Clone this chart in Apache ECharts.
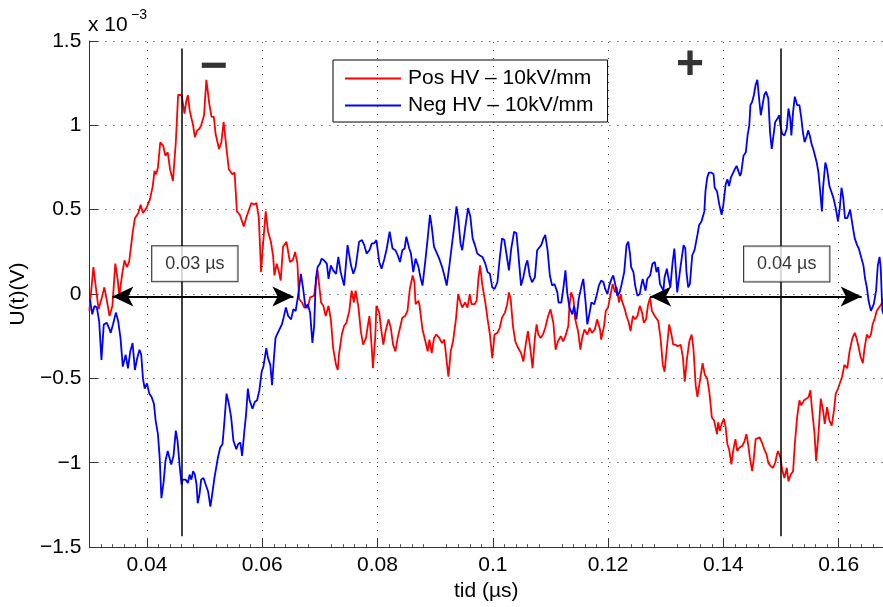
<!DOCTYPE html>
<html><head><meta charset="utf-8">
<script src="https://cdn.jsdelivr.net/npm/echarts@6/dist/echarts.min.js"></script>
<style>html,body{margin:0;padding:0;background:#fff}#c{width:883px;height:607px}</style>
</head><body><div id="c"></div>
<script>
// ---- tick labels / categories ----
const xTicks = [0.04, 0.06, 0.08, 0.10, 0.12, 0.14, 0.16];
const yTicks = [-1.5, -1, -0.5, 0, 0.5, 1, 1.5];
const posName = 'Pos HV – 10kV/mm';
const negName = 'Neg HV – 10kV/mm';

// ---- series values (x in µs, y in 1e-3 V) ----
const posData = [
[0.0300,-0.10],[0.0307,0.16],[0.0312,0.02],[0.0316,-0.09],[0.0321,-0.03],[0.0326,0.04],[0.0331,-0.05],[0.0335,-0.13],[0.0340,-0.07],[0.0345,0.18],[0.0349,0.09],[0.0352,-0.01],[0.0357,0.12],[0.0361,0.20],[0.0365,0.16],[0.0369,0.19],[0.0375,0.36],[0.0379,0.45],[0.0385,0.48],[0.0389,0.53],[0.0393,0.48],[0.0399,0.51],[0.0405,0.56],[0.0410,0.64],[0.0413,0.73],[0.0416,0.71],[0.0419,0.75],[0.0423,0.90],[0.0428,0.88],[0.0432,0.82],[0.0436,0.84],[0.0440,0.74],[0.0445,0.67],[0.0450,0.90],[0.0454,1.18],[0.0460,1.18],[0.0465,1.07],[0.0468,1.14],[0.0471,1.18],[0.0474,1.09],[0.0480,1.00],[0.0483,0.93],[0.0487,0.97],[0.0491,0.98],[0.0494,1.00],[0.0499,1.06],[0.0503,1.27],[0.0508,1.13],[0.0512,1.05],[0.0516,1.05],[0.0519,0.95],[0.0525,0.86],[0.0529,0.90],[0.0533,1.02],[0.0538,0.86],[0.0542,0.74],[0.0548,0.71],[0.0552,0.72],[0.0556,0.49],[0.0561,0.47],[0.0565,0.43],[0.0568,0.40],[0.0572,0.45],[0.0577,0.50],[0.0581,0.54],[0.0586,0.53],[0.0590,0.54],[0.0594,0.45],[0.0598,0.13],[0.0601,0.28],[0.0606,0.49],[0.0610,0.37],[0.0615,0.31],[0.0619,0.22],[0.0621,0.11],[0.0625,0.18],[0.0629,0.13],[0.0632,0.08],[0.0636,0.28],[0.0642,0.31],
[0.0648,0.19],[0.0653,0.20],[0.0657,0.25],[0.0661,0.18],[0.0664,-0.03],[0.0669,-0.05],[0.0673,-0.08],[0.0679,-0.08],[0.0683,-0.02],[0.0690,-0.01],[0.0696,0.14],[0.0702,-0.05],[0.0706,-0.07],[0.0710,-0.13],[0.0715,-0.07],[0.0719,-0.15],[0.0723,-0.32],[0.0728,-0.42],[0.0731,-0.45],[0.0733,-0.36],[0.0738,-0.24],[0.0742,-0.19],[0.0746,-0.17],[0.0751,-0.10],[0.0755,0.02],[0.0759,-0.05],[0.0762,0.02],[0.0767,-0.08],[0.0771,-0.22],[0.0775,-0.30],[0.0780,-0.26],[0.0783,-0.19],[0.0786,-0.13],[0.0790,-0.32],[0.0792,-0.44],[0.0796,-0.26],[0.0798,-0.07],[0.0803,-0.11],[0.0806,-0.20],[0.0810,-0.30],[0.0814,-0.22],[0.0819,-0.15],[0.0823,-0.20],[0.0827,-0.30],[0.0831,-0.34],[0.0835,-0.26],[0.0839,-0.20],[0.0843,-0.14],[0.0848,-0.13],[0.0852,-0.10],[0.0856,0.03],[0.0861,0.11],[0.0864,0.07],[0.0866,-0.06],[0.0871,-0.04],[0.0873,-0.07],[0.0878,-0.21],[0.0883,-0.28],[0.0887,-0.34],[0.0890,-0.27],[0.0894,-0.35],[0.0898,-0.26],[0.0902,-0.24],[0.0907,-0.26],[0.0912,-0.29],[0.0916,-0.27],[0.0920,-0.40],[0.0923,-0.49],[0.0927,-0.34],[0.0931,-0.28],[0.0936,-0.15],[0.0940,0.00],[0.0944,-0.05],[0.0947,-0.08],[0.0952,-0.05],[0.0956,-0.08],[0.0960,0.00],[0.0963,-0.06],[0.0968,-0.06],[0.0972,-0.04],[0.0975,0.09],[0.0978,0.17],[0.0982,0.05],[0.0987,-0.05],[0.0991,-0.15],[0.0995,-0.24],
[0.0999,-0.38],[0.1003,-0.24],[0.1008,-0.23],[0.1012,-0.20],[0.1016,-0.14],[0.1021,-0.11],[0.1025,-0.06],[0.1028,0.01],[0.1031,-0.03],[0.1035,-0.19],[0.1039,-0.28],[0.1044,-0.32],[0.1049,-0.35],[0.1053,-0.40],[0.1057,-0.30],[0.1061,-0.22],[0.1065,-0.32],[0.1069,-0.44],[0.1073,-0.26],[0.1076,-0.18],[0.1079,-0.24],[0.1083,-0.26],[0.1087,-0.24],[0.1091,-0.20],[0.1096,-0.13],[0.1100,-0.09],[0.1105,-0.17],[0.1109,-0.33],[0.1113,-0.28],[0.1118,-0.25],[0.1122,-0.28],[0.1126,-0.25],[0.1131,-0.19],[0.1133,-0.07],[0.1136,0.01],[0.1140,-0.03],[0.1143,-0.15],[0.1148,-0.22],[0.1152,-0.33],[0.1155,-0.26],[0.1159,-0.21],[0.1164,-0.24],[0.1168,-0.20],[0.1172,-0.23],[0.1177,-0.21],[0.1181,-0.15],[0.1186,-0.21],[0.1188,-0.27],[0.1193,-0.19],[0.1196,-0.10],[0.1200,-0.08],[0.1205,0.01],[0.1208,0.06],[0.1212,0.01],[0.1215,0.04],[0.1219,-0.05],[0.1222,0.00],[0.1224,-0.04],[0.1229,-0.09],[0.1232,-0.13],[0.1236,-0.17],[0.1239,-0.22],[0.1243,-0.13],[0.1247,-0.15],[0.1251,-0.13],[0.1255,-0.07],[0.1259,-0.11],[0.1262,-0.17],[0.1266,-0.15],[0.1269,-0.07],[0.1273,-0.02],[0.1276,-0.10],[0.1281,-0.13],[0.1287,-0.16],[0.1291,-0.26],[0.1295,-0.42],[0.1298,-0.46],
[0.1302,-0.32],[0.1306,-0.18],[0.1310,-0.24],[0.1313,-0.30],[0.1317,-0.30],[0.1321,-0.31],[0.1326,-0.30],[0.1330,-0.38],[0.1333,-0.52],[0.1337,-0.38],[0.1341,-0.28],[0.1345,-0.24],[0.1348,-0.32],[0.1352,-0.54],[0.1355,-0.61],[0.1360,-0.50],[0.1364,-0.41],[0.1368,-0.48],[0.1372,-0.50],[0.1376,-0.59],[0.1380,-0.73],[0.1384,-0.75],[0.1389,-0.83],[0.1391,-0.76],[0.1394,-0.81],[0.1397,-0.77],[0.1401,-0.74],[0.1404,-0.79],[0.1407,-0.89],[0.1410,-0.92],[0.1414,-1.01],[0.1417,-0.93],[0.1421,-0.86],[0.1424,-0.93],[0.1428,-0.91],[0.1433,-0.90],[0.1437,-0.87],[0.1440,-0.83],[0.1443,-0.89],[0.1446,-0.97],[0.1450,-1.05],[0.1453,-0.97],[0.1456,-0.86],[0.1459,-0.85],[0.1463,-0.85],[0.1467,-0.88],[0.1471,-0.92],[0.1475,-0.95],[0.1478,-1.00],[0.1482,-1.02],[0.1486,-1.03],[0.1490,-1.00],[0.1493,-0.95],[0.1495,-0.93],[0.1499,-0.97],[0.1502,-1.04],[0.1506,-1.09],[0.1510,-1.03],[0.1513,-1.11],[0.1517,-1.07],[0.1521,-1.05],[0.1524,-0.89],[0.1528,-0.73],[0.1532,-0.63],[0.1535,-0.66],[0.1540,-0.63],[0.1544,-0.62],[0.1548,-0.61],[0.1551,-0.57],[0.1554,-0.69],[0.1558,-0.82],[0.1561,-0.99],[0.1565,-0.83],[0.1569,-0.62],[0.1573,-0.69],[0.1576,-0.77],[0.1580,-0.67],[0.1584,-0.75],[0.1588,-0.78],[0.1592,-0.69],[0.1595,-0.59],[0.1599,-0.56],[0.1602,-0.57],[0.1606,-0.49],[0.1610,-0.42],[0.1615,-0.44],[0.1619,-0.34],[0.1624,-0.26],[0.1628,-0.23],[0.1631,-0.26],[0.1635,-0.32],[0.1638,-0.37],[0.1642,-0.41],[0.1645,-0.32],[0.1649,-0.24],[0.1653,-0.26],[0.1656,-0.24],[0.1659,-0.18],[0.1663,-0.14],[0.1666,-0.10],[0.1670,-0.08],[0.1674,-0.06],[0.1678,-0.02]
];

const negData = [
[0.0301,-0.03],[0.0305,-0.12],[0.0309,-0.07],[0.0313,-0.08],[0.0317,-0.16],[0.0321,-0.39],[0.0325,-0.18],[0.0330,-0.17],[0.0334,-0.20],[0.0337,-0.23],[0.0341,-0.18],[0.0346,-0.11],[0.0350,-0.16],[0.0354,-0.26],[0.0358,-0.43],[0.0363,-0.36],[0.0367,-0.44],[0.0371,-0.34],[0.0375,-0.29],[0.0379,-0.45],[0.0383,-0.38],[0.0387,-0.33],[0.0390,-0.36],[0.0393,-0.50],[0.0396,-0.56],[0.0400,-0.53],[0.0404,-0.59],[0.0408,-0.61],[0.0412,-0.65],[0.0415,-0.75],[0.0419,-0.83],[0.0422,-0.97],[0.0425,-1.21],[0.0429,-1.11],[0.0432,-0.99],[0.0436,-0.93],[0.0439,-0.97],[0.0442,-1.01],[0.0446,-0.96],[0.0450,-0.81],[0.0453,-0.87],[0.0457,-1.03],[0.0460,-1.13],[0.0462,-1.10],[0.0467,-1.10],[0.0471,-1.12],[0.0474,-1.07],[0.0477,-1.10],[0.0480,-1.05],[0.0483,-1.07],[0.0486,-1.13],[0.0488,-1.24],[0.0491,-1.19],[0.0494,-1.10],[0.0498,-1.09],[0.0502,-1.13],[0.0506,-1.17],[0.0510,-1.26],[0.0513,-1.19],[0.0517,-1.09],[0.0520,-1.03],[0.0523,-0.97],[0.0527,-0.91],[0.0531,-0.89],[0.0534,-0.77],[0.0538,-0.59],[0.0542,-0.65],[0.0546,-0.73],[0.0550,-0.87],[0.0555,-0.92],[0.0558,-0.89],[0.0562,-0.88],[0.0565,-0.96],[0.0569,-0.81],[0.0572,-0.71],[0.0575,-0.56],[0.0578,-0.63],[0.0583,-0.68],[0.0587,-0.64],[0.0591,-0.63],[0.0595,-0.57],[0.0599,-0.46],[0.0602,-0.43],[0.0607,-0.32],[0.0610,-0.38],[0.0614,-0.42],[0.0617,-0.54],[0.0620,-0.39],[0.0623,-0.26],[0.0627,-0.23],[0.0630,-0.24],[0.0634,-0.18],[0.0637,-0.14],[0.0641,-0.08],[0.0645,-0.13],[0.0647,-0.13],
[0.0650,-0.15],[0.0654,-0.09],[0.0658,-0.10],[0.0663,0.01],[0.0667,0.12],[0.0671,0.03],[0.0675,-0.08],[0.0679,-0.06],[0.0683,-0.11],[0.0687,-0.29],[0.0690,-0.19],[0.0693,0.09],[0.0696,0.16],[0.0700,0.18],[0.0703,0.21],[0.0707,0.20],[0.0712,0.18],[0.0715,0.09],[0.0719,0.17],[0.0723,0.14],[0.0728,0.12],[0.0732,0.22],[0.0736,0.13],[0.0742,0.05],[0.0748,0.29],[0.0754,0.17],[0.0758,0.12],[0.0762,0.16],[0.0768,0.31],[0.0773,0.32],[0.0777,0.29],[0.0781,0.24],[0.0786,0.26],[0.0790,0.30],[0.0794,0.30],[0.0798,0.32],[0.0803,0.19],[0.0807,0.15],[0.0812,0.21],[0.0816,0.27],[0.0821,0.37],[0.0826,0.27],[0.0831,0.26],[0.0835,0.23],[0.0839,0.19],[0.0843,0.26],[0.0847,0.27],[0.0850,0.34],[0.0855,0.27],[0.0858,0.24],[0.0862,0.13],[0.0866,0.21],[0.0871,0.16],[0.0875,0.09],[0.0878,0.05],[0.0883,0.20],[0.0887,0.33],[0.0891,0.47],[0.0894,0.40],[0.0898,0.28],[0.0902,0.25],[0.0907,0.21],[0.0912,0.16],[0.0916,0.11],[0.0920,0.05],[0.0924,0.15],[0.0929,0.29],[0.0933,0.40],[0.0937,0.52],[0.0940,0.45],[0.0944,0.30],[0.0947,0.26],[0.0952,0.39],[0.0957,0.51],[0.0961,0.46],[0.0965,0.33],[0.0969,0.29],[0.0973,0.24],[0.0977,0.23],[0.0982,0.22],[0.0987,0.18],[0.0991,0.13],[0.0995,0.12],
[0.0999,0.04],[0.1003,0.03],[0.1008,0.07],[0.1012,0.21],[0.1016,0.33],[0.1020,0.32],[0.1024,0.23],[0.1028,0.14],[0.1032,0.27],[0.1037,0.37],[0.1041,0.36],[0.1044,0.25],[0.1049,0.05],[0.1053,0.10],[0.1057,0.17],[0.1060,0.20],[0.1064,0.11],[0.1068,0.07],[0.1073,0.10],[0.1077,0.26],[0.1080,0.26],[0.1084,0.29],[0.1088,0.33],[0.1091,0.35],[0.1095,0.26],[0.1099,0.11],[0.1103,0.05],[0.1107,0.06],[0.1112,0.01],[0.1114,-0.05],[0.1119,-0.05],[0.1123,0.05],[0.1126,0.14],[0.1129,0.01],[0.1133,-0.08],[0.1138,-0.12],[0.1141,-0.07],[0.1145,-0.15],[0.1149,-0.03],[0.1154,0.05],[0.1157,0.09],[0.1161,-0.05],[0.1164,-0.18],[0.1168,-0.11],[0.1171,-0.05],[0.1176,-0.06],[0.1180,-0.01],[0.1184,0.05],[0.1188,0.08],[0.1192,0.07],[0.1195,0.03],[0.1199,0.00],[0.1202,0.05],[0.1206,0.09],[0.1209,0.11],[0.1213,0.05],[0.1216,-0.01],[0.1220,0.01],[0.1223,0.05],[0.1228,0.13],[0.1232,0.29],[0.1235,0.31],[0.1238,0.24],[0.1240,0.16],[0.1244,0.13],[0.1247,0.05],[0.1251,-0.01],[0.1255,0.00],
[0.1257,0.04],[0.1260,0.09],[0.1262,0.10],[0.1265,0.02],[0.1268,0.09],[0.1273,0.11],[0.1277,0.18],[0.1281,0.19],[0.1284,0.13],[0.1287,0.16],[0.1290,0.06],[0.1293,0.04],[0.1296,0.02],[0.1298,0.10],[0.1302,0.15],[0.1304,0.11],[0.1308,0.04],[0.1312,0.19],[0.1315,0.27],[0.1317,0.17],[0.1320,0.01],[0.1323,0.02],[0.1326,0.17],[0.1331,0.29],[0.1334,0.27],[0.1336,0.13],[0.1339,0.04],[0.1342,0.06],[0.1346,0.23],[0.1350,0.26],[0.1355,0.35],[0.1358,0.41],[0.1362,0.43],[0.1367,0.49],[0.1369,0.61],[0.1372,0.69],[0.1375,0.72],[0.1379,0.72],[0.1383,0.71],[0.1385,0.63],[0.1389,0.61],[0.1393,0.53],[0.1397,0.47],[0.1400,0.53],[0.1404,0.65],[0.1407,0.68],[0.1410,0.64],[0.1413,0.69],[0.1416,0.70],[0.1420,0.74],[0.1423,0.76],[0.1426,0.73],[0.1429,0.70],[0.1431,0.72],[0.1435,0.82],[0.1439,0.84],[0.1442,0.94],[0.1445,1.00],[0.1447,1.12],[0.1450,1.14],[0.1453,1.18],[0.1456,1.24],[0.1459,1.27],[0.1462,1.16],[0.1465,1.06],[0.1468,1.12],[0.1471,1.18],[0.1474,1.20],[0.1478,1.16],[0.1481,0.96],[0.1484,0.86],[0.1487,0.87],[0.1490,1.02],[0.1494,1.04],[0.1497,1.06],[0.1499,1.00],[0.1502,0.95],[0.1506,0.94],[0.1510,0.98],[0.1513,1.10],[0.1516,1.04],[0.1518,0.94],[0.1521,1.08],[0.1524,1.17],[0.1528,1.12],[0.1532,1.12],[0.1535,1.05],[0.1538,0.96],[0.1541,0.90],[0.1545,0.94],[0.1547,0.97],[0.1550,0.94],[0.1553,0.89],[0.1556,0.86],[0.1559,0.82],[0.1562,0.78],[0.1565,0.72],[0.1568,0.61],[0.1571,0.49],[0.1573,0.63],[0.1577,0.78],[0.1580,0.74],[0.1584,0.64],[0.1587,0.64],[0.1591,0.57],[0.1595,0.51],[0.1599,0.43],[0.1602,0.51],[0.1605,0.63],[0.1608,0.57],[0.1611,0.45],[0.1615,0.45],[0.1620,0.50],[0.1624,0.41],[0.1628,0.33],[0.1632,0.29],[0.1635,0.27],[0.1639,0.22],[0.1643,0.17],[0.1646,0.09],[0.1649,0.04],[0.1652,-0.04],[0.1656,-0.10],[0.1658,-0.11],[0.1661,-0.06],[0.1665,0.02],[0.1668,0.17],[0.1671,0.22],[0.1673,0.16],[0.1675,-0.02],[0.1676,-0.10],[0.1678,-0.12]
];

// ---- annotations (data coordinates) ----
const cursorX = [0.0461, 0.1499];
const cursorYRange = [-1.435, 1.456];
const spanArrows = [[0.0340, 0.0654], [0.1273, 0.1640]];
const arrowY = -0.015;
const spanLabels = ['0.03 µs', '0.04 µs'];
const spanLabelPos = [[0.0483, 0.18], [0.1510, 0.178]];
const signText = ['−', '+'];
const signPos = [[0.0516, 1.34], [0.1342, 1.355]];

const FONT = '"Liberation Sans", Arial, Helvetica, sans-serif';
const fmtNum = v => String(+(+v).toFixed(4)).replace('-', '−');
const gridStyle = {color: '#333', type: [1, 7], width: 1};

const chart = echarts.init(document.getElementById('c'), null, {renderer: 'canvas'});
chart.setOption({
  animation: false,
  backgroundColor: '#fff',
  textStyle: {fontFamily: FONT},
  grid: {left: 89, right: 0, top: 41, bottom: 57, containLabel: false},
  legend: {
    data: [posName, negName], orient: 'vertical', left: 333, top: 60,
    icon: 'rect',
    backgroundColor: '#fff', borderColor: '#000', borderWidth: 1,
    padding: [8, 14, 6, 12], itemWidth: 56, itemHeight: 2, itemGap: 6,
    textStyle: {fontSize: 21, color: '#000', fontFamily: FONT, padding: [0, 0, 0, 2]}
  },
  xAxis: {
    type: 'value', min: 0.03, max: 0.1677, interval: 0.01,
    name: 'tid (µs)', nameLocation: 'middle', nameGap: 31,
    nameTextStyle: {fontSize: 21, color: '#000', fontFamily: FONT},
    axisLine: {onZero: false, lineStyle: {color: '#333', width: 1}},
    axisTick: {inside: true, length: 9, customValues: xTicks, lineStyle: {color: '#333'}},
    minorTick: {show: true, splitNumber: 5, length: 3, lineStyle: {color: '#555'}},
    axisLabel: {customValues: xTicks, formatter: fmtNum, fontSize: 21, color: '#000', margin: 8, fontFamily: FONT},
    splitLine: {show: false}
  },
  yAxis: {
    type: 'value', min: -1.5, max: 1.5, interval: 0.5,
    name: 'U(t)(V)', nameLocation: 'middle', nameGap: 60,
    nameTextStyle: {fontSize: 21, color: '#000', fontFamily: FONT},
    axisLine: {show: true, lineStyle: {color: '#333', width: 1}},
    axisTick: {show: true, inside: true, length: 9, lineStyle: {color: '#333'}},
    axisLabel: {formatter: fmtNum, fontSize: 21, color: '#000', margin: 8, fontFamily: FONT},
    splitLine: {show: true, lineStyle: gridStyle}
  },
  graphic: [
    {type: 'text', left: 88, top: 15, style: {text: 'x 10', font: '21px ' + FONT, fill: '#000'}},
    {type: 'text', left: 131, top: 8, style: {text: '−3', font: '14px ' + FONT, fill: '#000'}}
  ],
  series: [
    {name: 'xgrid', type: 'line', data: [], z: 1, silent: true,
     markLine: {
       silent: true, animation: false, symbol: ['none', 'none'], label: {show: false},
       lineStyle: gridStyle,
       data: xTicks.map(x => [{coord: [x, yTicks[0]]}, {coord: [x, yTicks[yTicks.length - 1]]}])
     }},
    {name: posName, type: 'line', data: posData, symbol: 'none', z: 2,
     lineStyle: {color: '#ff0000', width: 1.8}, itemStyle: {color: '#ff0000'}},
    {name: negName, type: 'line', data: negData, symbol: 'none', z: 2,
     lineStyle: {color: '#0000ff', width: 1.8}, itemStyle: {color: '#0000ff'}},
    {name: 'cursors', type: 'line', data: [], z: 3, silent: true,
     markLine: {
       silent: true, animation: false, symbol: ['none', 'none'],
       label: {show: false},
       lineStyle: {color: '#000', width: 1.5, type: 'solid'},
       data: cursorX.map(x => [{coord: [x, cursorYRange[0]]}, {coord: [x, cursorYRange[1]]}])
     }},
    {name: 'arrows', type: 'line', data: [], z: 4, silent: true,
     markLine: {
       silent: true, animation: false, symbol: ['arrow', 'arrow'], symbolSize: [15, 21],
       label: {show: false},
       lineStyle: {color: '#000', width: 2, type: 'solid'},
       itemStyle: {color: '#000'},
       data: spanArrows.map(a => [{coord: [a[0], arrowY]}, {coord: [a[1], arrowY]}])
     }},
    {name: 'spanLabels', type: 'scatter', z: 6, silent: true, symbolSize: 0,
     data: spanLabelPos.map((p, i) => ({value: p, name: spanLabels[i]})),
     label: {show: true, position: 'inside', formatter: p => p.name,
       fontSize: 18, color: '#000', fontFamily: FONT,
       backgroundColor: '#fff', borderColor: '#000', borderWidth: 1, padding: [9, 13, 8, 13]}},
    {name: 'signs', type: 'scatter', z: 6, silent: true, symbolSize: 0,
     data: signPos.map((p, i) => ({value: p, name: signText[i]})),
     label: {show: true, position: 'inside', formatter: p => p.name,
       fontSize: 48, fontWeight: 'bold', color: '#000', fontFamily: FONT}}
  ]
});
</script>
</body></html>
